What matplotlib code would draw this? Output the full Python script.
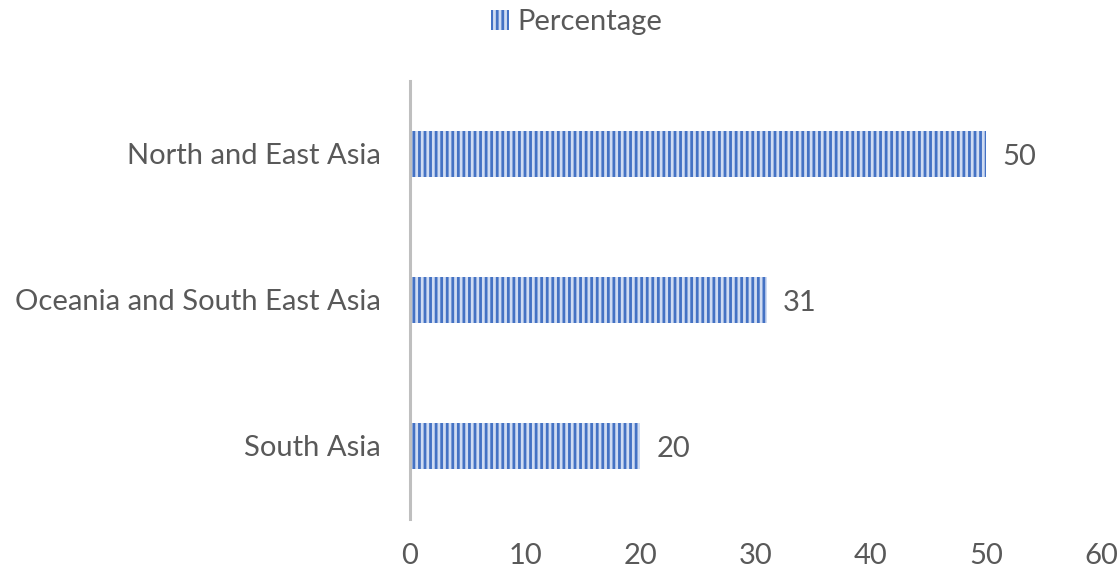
import matplotlib.pyplot as plt
from matplotlib.patches import Patch

regions = ["South Asia", "Oceania and South East Asia", "North and East Asia"]
percentage = [20, 31, 50]
xticks = [0, 10, 20, 30, 40, 50, 60]

text_col = "#595959"
blue = "#4472C4"
light = "#D0DCF2"

plt.rcParams["font.family"] = ["Lato", "DejaVu Sans"]
plt.rcParams["hatch.linewidth"] = 2.0

fig = plt.figure(figsize=(11.19, 5.71), dpi=100)
ax = fig.add_axes([410 / 1119, 1 - 519 / 571, (1101 - 410) / 1119, 438 / 571])

bars = ax.barh(range(len(regions)), percentage, height=0.315,
               color=light, edgecolor=blue, hatch="|||", linewidth=0)

for i, v in enumerate(percentage):
    ax.text(v + 1.4, i - 0.02, str(v), va="center", ha="left", fontsize=21, color=text_col)

ax.set_xlim(0, 60)
ax.set_ylim(-0.5, len(regions) - 0.5)
ax.set_xticks(xticks)
ax.set_yticks(range(len(regions)))
ax.set_yticklabels(regions)
ax.tick_params(axis="both", length=0, labelsize=21, labelcolor=text_col)
ax.tick_params(axis="x", pad=17)
ax.tick_params(axis="y", pad=21)

for s in ["top", "right", "bottom"]:
    ax.spines[s].set_visible(False)
ax.spines["left"].set_color("#BFBFBF")
ax.spines["left"].set_linewidth(2.2)

handle = Patch(facecolor=light, edgecolor=blue, hatch="|||", linewidth=0)
fig.legend([handle], ["Percentage"], loc="center", bbox_to_anchor=(577 / 1119, 1 - 22 / 571),
           frameon=False, fontsize=21, labelcolor=text_col, handlelength=0.6,
           handleheight=0.7, handletextpad=0.3)

fig.savefig("out.png", dpi=100)
